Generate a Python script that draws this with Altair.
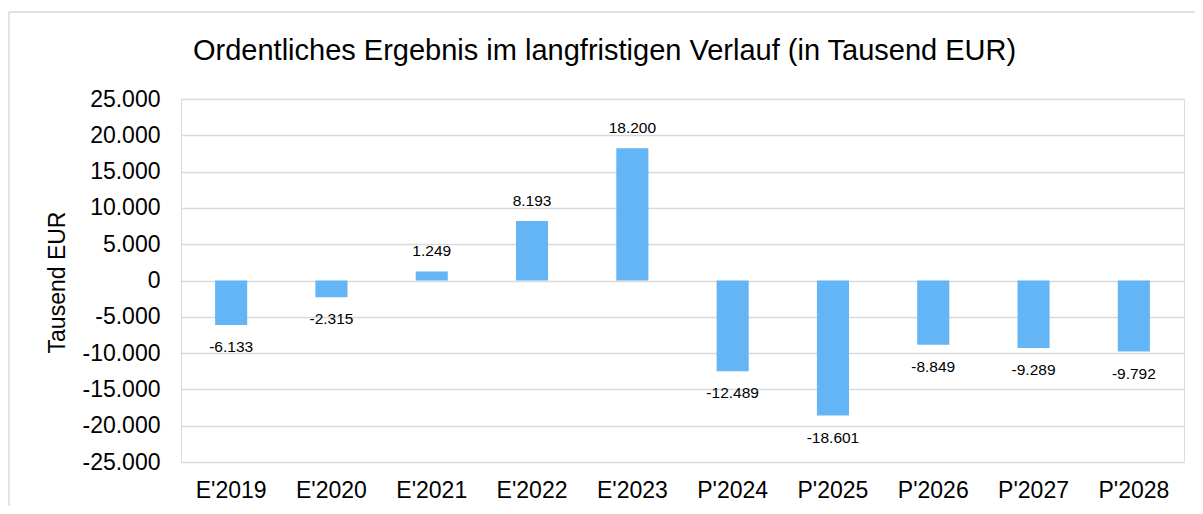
import altair as alt
import pandas as pd

categories = ["E'2019", "E'2020", "E'2021", "E'2022", "E'2023",
              "P'2024", "P'2025", "P'2026", "P'2027", "P'2028"]
values = [-6133, -2315, 1249, 8193, 18200, -12489, -18601, -8849, -9289, -9792]
y_ticks = [-25000, -20000, -15000, -10000, -5000, 0, 5000, 10000, 15000, 20000, 25000]

df = pd.DataFrame({"Jahr": categories, "Wert": values})

FONT = "Liberation Sans"
BAR = "#64B5F6"
GRID = "#d9d9d9"

de_fmt = "(datum.{f} < 0 ? '-' : '') + replace(format(abs(datum.{f}), ','), ',', '.')"

x_scale = alt.Scale(paddingInner=0.68, paddingOuter=0.34)
x_axis = alt.Axis(title=None, labelAngle=0, labelFontSize=23, labelFont=FONT,
                  labelColor="#000000", labelPadding=17, ticks=False,
                  domain=False, grid=False, labelOverlap=False)
y_scale = alt.Scale(domain=[-25000, 25000], nice=False, zero=True)
y_axis = alt.Axis(values=y_ticks, title="Tausend EUR",
                  labelExpr=de_fmt.format(f="value"),
                  labelOverlap=False,
                  labelFontSize=23, labelFont=FONT, labelColor="#000000",
                  labelPadding=21, ticks=False, domain=False,
                  grid=True, gridColor=GRID, gridWidth=1.3,
                  titleFontSize=23, titleFont=FONT, titleColor="#000000",
                  titleFontWeight="normal", titleAngle=-90,
                  titleX=-124, titleY=183, titleAlign="center",
                  titleBaseline="middle")

x_enc = alt.X("Jahr:N", sort=categories, scale=x_scale, axis=x_axis)
y_enc = alt.Y("Wert:Q", scale=y_scale, axis=y_axis)

base = alt.Chart(df)

bars = base.mark_bar(color=BAR).encode(x=x_enc, y=y_enc)

lab = base.transform_calculate(txt=de_fmt.format(f="Wert"))

pos_labels = lab.transform_filter("datum.Wert >= 0").mark_text(
    font=FONT, fontSize=15.5, color="#000000", baseline="middle", dy=-20
).encode(x=x_enc, y=y_enc, text="txt:N")

neg_labels = lab.transform_filter("datum.Wert < 0").mark_text(
    font=FONT, fontSize=15.5, color="#000000", baseline="middle", dy=22
).encode(x=x_enc, y=y_enc, text="txt:N")

# chart frame (decorative border, top and left edges)
frame_top = alt.Chart(pd.DataFrame({"k": [0]})).mark_rule(color=GRID, strokeWidth=1.5).encode(
    x=alt.value(-172), x2=alt.value(1030), y=alt.value(-87))
frame_left = alt.Chart(pd.DataFrame({"k": [0]})).mark_rule(color=GRID, strokeWidth=1.5).encode(
    x=alt.value(-172), y=alt.value(-87), y2=alt.value(420))

chart = alt.layer(bars, pos_labels, neg_labels, frame_top, frame_left).properties(
    width=1003, height=363,
    padding={"left": 173, "top": 91, "right": 11, "bottom": 44},
    autosize=alt.AutoSizeParams(type="none"),
    title=alt.TitleParams("Ordentliches Ergebnis im langfristigen Verlauf (in Tausend EUR)",
                          font=FONT, fontSize=29, fontWeight="normal", color="#000000",
                          anchor="start", frame="group", dx=12, offset=-55),
).configure_view(strokeWidth=0, stroke="transparent").configure(background="#ffffff")

chart.save("out.html", embed_options={"renderer": "svg", "actions": False})
